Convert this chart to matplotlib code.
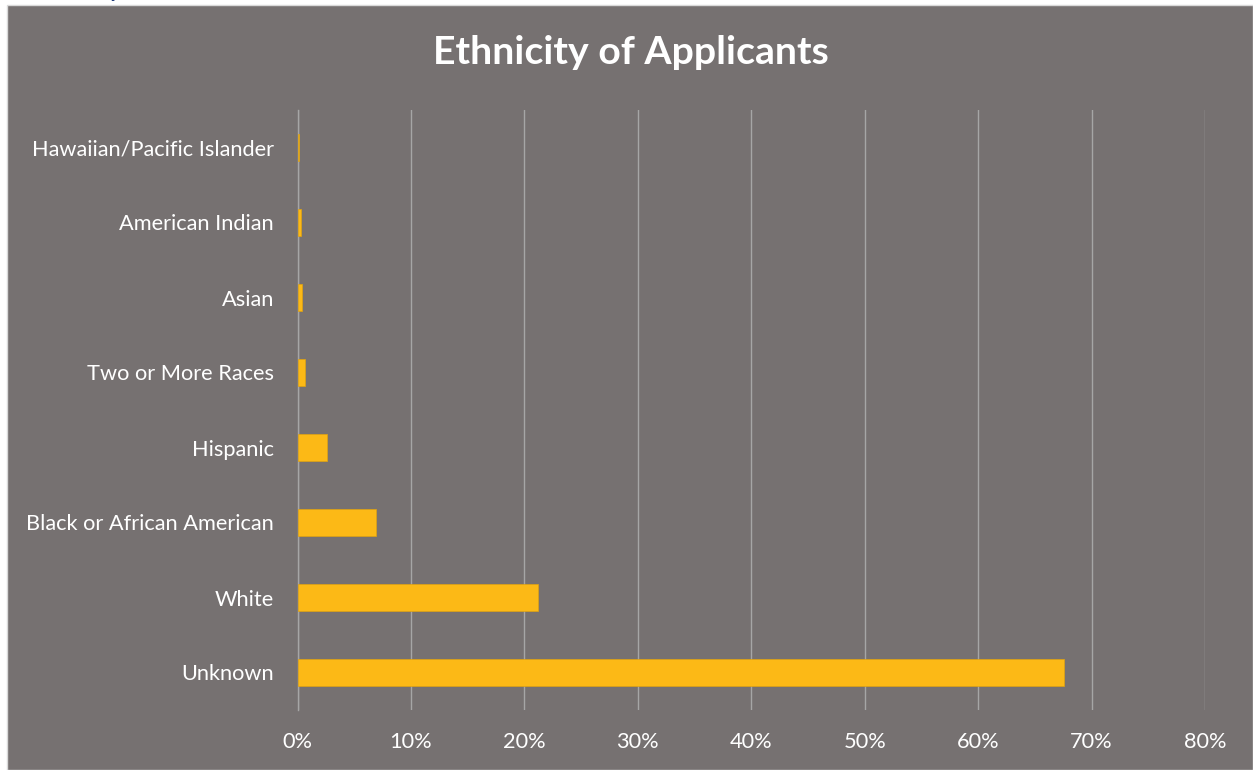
import matplotlib
matplotlib.use("Agg")
import matplotlib.pyplot as plt
from matplotlib.patches import Rectangle
from matplotlib.ticker import FuncFormatter, MultipleLocator

categories = ["Unknown", "White", "Black or African American", "Hispanic",
              "Two or More Races", "Asian", "American Indian",
              "Hawaiian/Pacific Islander"]
values = [67.6, 21.2, 6.9, 2.6, 0.69, 0.4, 0.3, 0.13]
title = "Ethnicity of Applicants"

BG = "#767171"
BAR = "#FCB916"
GRID = "#A6A6A6"
FONT = ["Lato", "DejaVu Sans"]

W, H = 1253, 770
fig = plt.figure(figsize=(W / 100, H / 100), dpi=100)
fig.patch.set_facecolor("white")
# chart area background
fig.add_artist(Rectangle((7 / W, 0), 1 - 7 / W, 1 - 5 / H, transform=fig.transFigure,
                         facecolor=BG, edgecolor="#D9D9D9", linewidth=1.0, zorder=0))
# clipped fragment of heading above the chart
fig.text(115 / W, 1 + 10 / H, "y", color="#1F3B7A", fontsize=16, fontweight="bold",
         ha="center", va="center", family=FONT)

left, right, top, bottom = 297.5, 1205, 110, 710
ax = fig.add_axes([left / W, 1 - bottom / H, (right - left) / W, (bottom - top) / H])
ax.set_facecolor("none")
y = list(range(len(categories)))
ax.barh(y, values, height=0.35, color=BAR, edgecolor="#E0A30F", linewidth=0.5, zorder=3)
ax.set_xlim(0, 80)
ax.set_ylim(-0.5, len(categories) - 0.5)
ax.xaxis.set_major_locator(MultipleLocator(10))
ax.xaxis.set_major_formatter(FuncFormatter(lambda v, p: f"{v:.0f}%"))
ax.set_yticks(y)
ax.set_yticklabels(categories)
ax.grid(axis="x", color=GRID, linewidth=1.0, zorder=0)
ax.set_axisbelow(True)
for s in ["top", "right", "bottom"]:
    ax.spines[s].set_visible(False)
ax.spines["left"].set_color(GRID)
ax.spines["left"].set_linewidth(1.0)
ax.tick_params(axis="both", length=0, colors="white", labelsize=15.7)
ax.tick_params(axis="y", pad=17)
ax.tick_params(axis="x", pad=16)
for lab in ax.get_xticklabels() + ax.get_yticklabels():
    lab.set_family(FONT)
    lab.set_color("white")

fig.text(630.5 / W, 1 - 52 / H, title, color="white", fontsize=28.3, fontweight="bold",
         ha="center", va="center", family=FONT)

fig.savefig("out.png", dpi=100, facecolor=fig.get_facecolor())
